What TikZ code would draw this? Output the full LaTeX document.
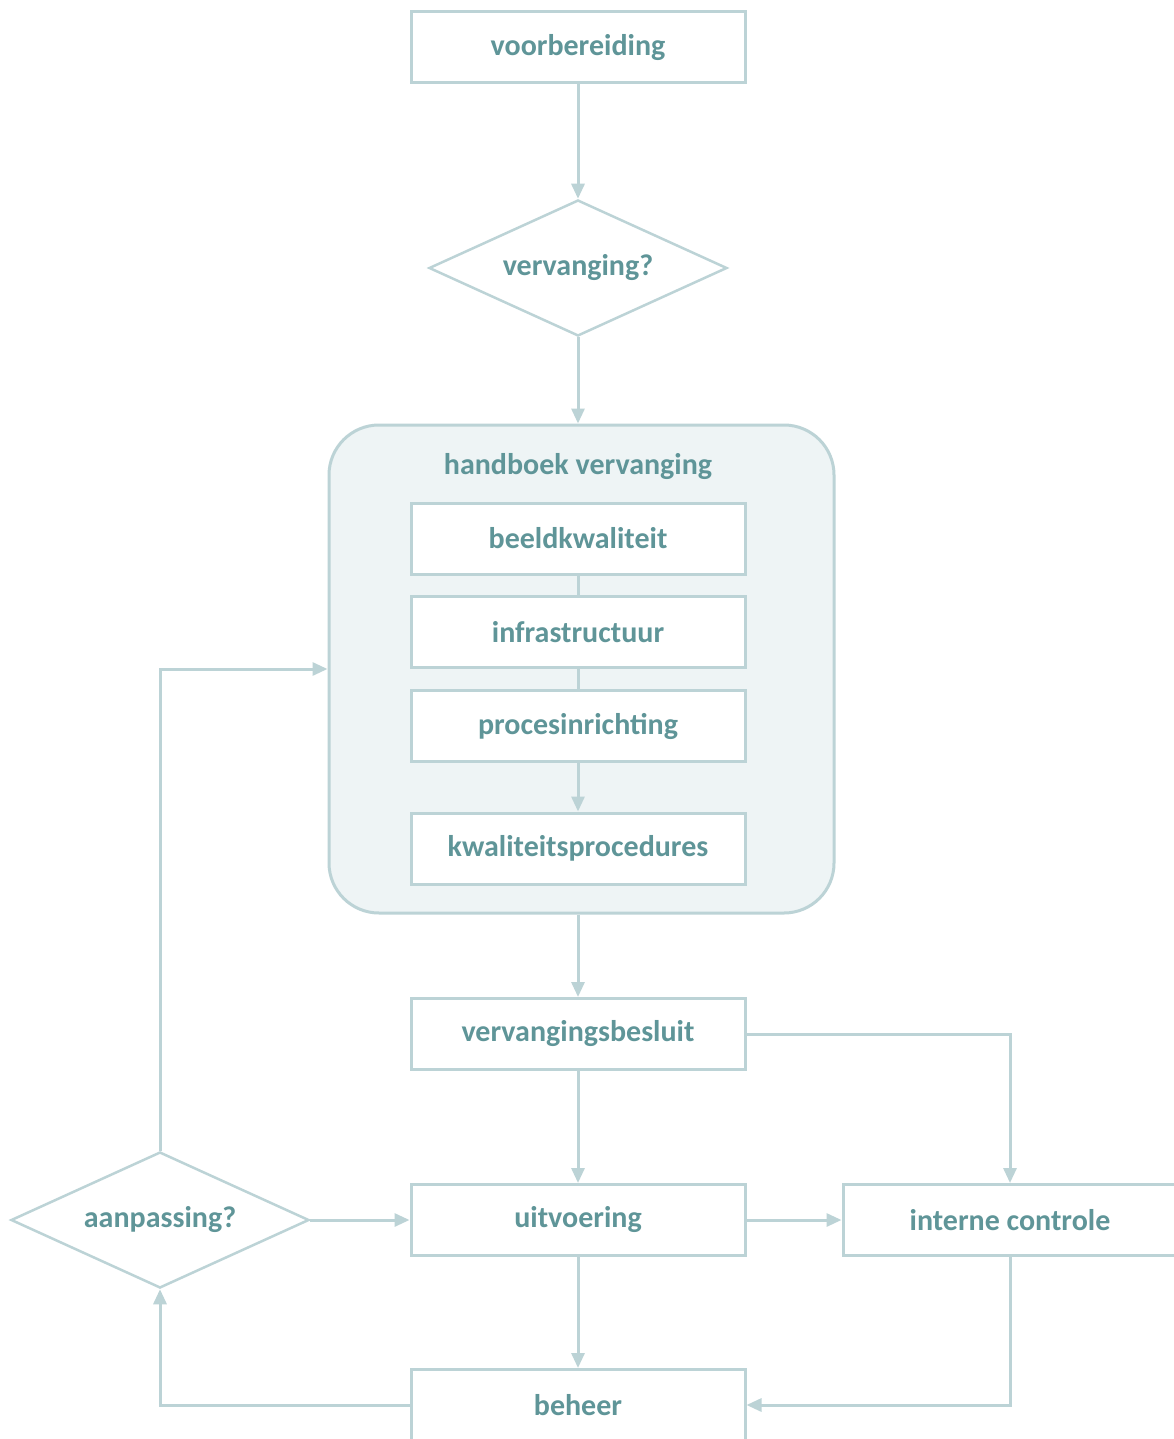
\documentclass[tikz,border=0pt]{standalone}
\usepackage{fontspec}
\setmainfont{Carlito}
\usetikzlibrary{shapes.geometric,arrows.meta}
\definecolor{ln}{HTML}{BCD3D6}
\definecolor{tx}{HTML}{5F9598}
\definecolor{cf}{HTML}{EEF4F5}
\begin{document}
\begin{tikzpicture}[x=1pt,y=-1pt,
  lbl/.style={text=tx,font=\fontsize{30}{36}\selectfont\bfseries},
  box/.style={lbl,draw=ln,line width=3pt,fill=white,minimum width=334pt,minimum height=71pt,inner sep=0pt},
  dia/.style={lbl,diamond,draw=ln,line width=2.5pt,fill=white,minimum width=298pt,minimum height=136pt,aspect=2.19,inner sep=0pt},
  cont/.style={draw=ln,line width=3pt,fill=cf,rounded corners=50pt,minimum width=505pt,minimum height=488pt},
  conn/.style={draw=ln,line width=3pt},
  arr/.style={conn,-{Triangle[length=15pt,width=13pt]}}
]
\useasboundingbox[fill=white] (0,0) rectangle (1174,1439);
\node[box] (voor) at (578,47.5) {voorbereiding};
\node[dia] (verv) at (578,268) {vervanging?};
\node[cont] (hb) at (581.5,669) {};
\node[lbl] (hbt) at (578,467) {handboek vervanging};
\node[box] (beeld) at (578,538.5) {beeldkwaliteit};
\node[box] (infra) at (578,632) {infrastructuur};
\node[box] (proc) at (578,726) {procesinrichting};
\node[box] (kwal) at (578,848.5) {kwaliteitsprocedures};
\node[box] (besl) at (578,1034) {vervangingsbesluit};
\node[box] (uitv) at (578,1220) {uitvoering};
\node[box] (intc) at (1010,1220) {interne controle};
\node[dia] (aanp) at (160,1220) {aanpassing?};
\node[box] (beh) at (578,1405) {beheer};
\draw[arr] (voor) -- (verv);
\draw[arr] (verv) -- (verv |- hb.north);
\draw[conn] (beeld) -- (infra);
\draw[conn] (infra) -- (proc);
\draw[arr] (proc) -- (kwal);
\draw[arr] (besl |- hb.south) -- (besl);
\draw[arr] (besl) -- (uitv);
\draw[arr] (besl.east) -| (intc.north);
\draw[arr] (uitv) -- (intc);
\draw[arr] (aanp.east) -- (uitv.west);
\draw[arr] (aanp.north) |- (hb.west);
\draw[arr] (uitv) -- (beh);
\draw[arr] (beh.west) -| (aanp.south);
\draw[arr] (intc.south) |- (beh.east);
\end{tikzpicture}
\end{document}
